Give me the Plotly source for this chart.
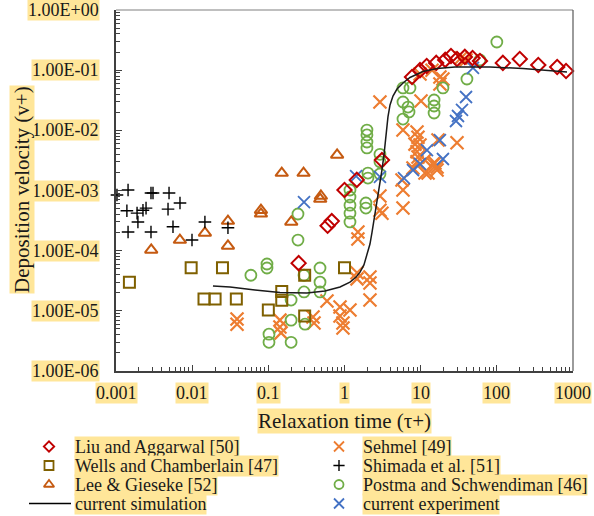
import numpy as np
import plotly.graph_objects as go

# ---------------- data ----------------
liu_x = [0.25, 0.6, 0.68, 1.0, 1.45, 3.1, 7.7, 9.8, 12, 16, 21, 25, 30, 38, 48, 60, 120, 200, 350, 620, 810]
liu_y = [6.2e-5, 2.6e-4, 3.1e-4, 1.02e-3, 1.5e-3, 3.2e-3, 0.077, 0.1, 0.117, 0.132, 0.148, 0.172, 0.153,
         0.166, 0.159, 0.142, 0.132, 0.153, 0.122, 0.113, 0.097]

wells_x = [0.0015, 0.0097, 0.025, 0.0143, 0.02, 0.038, 0.1, 0.15, 0.15, 0.3, 1.0, 0.3]
wells_y = [3.0e-5, 5.2e-5, 5.2e-5, 1.57e-5, 1.57e-5, 1.57e-5, 1.03e-5, 2.1e-5, 1.5e-5, 3.9e-5, 5.2e-5, 8.2e-6]

lee_x = [0.0029, 0.0069, 0.0147, 0.0295, 0.0295, 0.08, 0.08, 0.15, 0.29, 0.2, 0.48, 0.49, 0.8]
lee_y = [1.03e-4, 1.5e-4, 1.97e-4, 3.1e-4, 1.2e-4, 4.7e-4, 4.1e-4, 1.95e-3, 1.95e-3, 3.0e-4, 7.2e-4, 8.1e-4, 3.9e-3]

sehmel_x = [0.0388, 0.0388, 0.142, 0.142, 0.147, 0.386, 0.398, 0.589, 0.873, 0.873, 0.955, 0.955, 1.18,
            1.46, 1.46, 2.16, 2.16, 2.16, 1.5, 1.5, 2.92, 2.92, 3.1, 5.86, 5.86, 5.69, 7.93, 8.95, 12.5,
            15.4, 16.4, 2.92, 5.86, 8.95, 9.22, 8.42, 9.8, 8.95, 9.22, 16.9, 30, 11.4, 14.5, 16.4, 11.4,
            10.1, 9.8, 17.9, 19.6, 17.9, 14.1, 33.8, 39.4]
sehmel_y = [7.3e-6, 6.0e-6, 7.0e-6, 5.4e-6, 4.3e-6, 7.9e-6, 6.3e-6, 1.46e-5, 1.16e-5, 8.2e-6, 6.3e-6, 5.2e-6,
            1.03e-5, 4.3e-5, 3.4e-5, 3.65e-5, 2.9e-5, 1.51e-5, 2.04e-4, 1.56e-4, 8.1e-4, 4.7e-4, 4.2e-4,
            1.02e-3, 5.1e-4, 1.5e-3, 2.37e-3, 3.0e-3, 1.95e-3, 2.87e-3, 2.46e-3, 0.0296, 0.0101, 9.4e-3,
            7.7e-3, 5.9e-3, 5.7e-3, 4.4e-3, 3.6e-3, 6.9e-3, 6.2e-3, 3.2e-3, 2.76e-3, 2.19e-3, 1.95e-3,
            0.0308, 0.0863, 0.077, 0.0713, 0.0589, 0.1, 0.159, 0.148]

shimada_x = [0.00103, 0.00144, 0.00288, 0.00306, 0.00497, 0.00692, 0.00139, 0.00189, 0.00226, 0.00248,
             0.00482, 0.00194, 0.0056, 0.00144, 0.00288, 0.00995, 0.0147, 0.0295]
shimada_y = [8.4e-4, 1.02e-3, 9.1e-4, 9.1e-4, 9.1e-4, 6.2e-4, 4.6e-4, 4.2e-4, 4.7e-4, 5.1e-4, 4.9e-4,
             3.0e-4, 2.5e-4, 2.04e-4, 2.04e-4, 1.5e-4, 3.0e-4, 2.4e-4]

postma_x = [0.059, 0.096, 0.096, 0.102, 0.102, 0.199, 0.199, 0.199, 0.245, 0.245, 0.294, 0.294, 0.303,
            0.477, 0.477, 0.477, 1.18, 1.18, 1.18, 1.18, 1.18, 1.91, 1.91, 1.97, 1.97, 1.97, 1.97,
            2.03, 2.03, 2.92, 2.92, 2.92, 5.86, 7.24, 5.86, 6.82, 7.03, 5.86, 15, 15, 15, 19.6, 40.5, 60, 100]
postma_y = [3.9e-5, 6.0e-5, 5.15e-5, 4.1e-6, 3.0e-6, 1.51e-5, 7.0e-6, 3.0e-6, 4.07e-4, 1.5e-4, 3.9e-5,
            2.06e-5, 6.0e-6, 5.15e-5, 3.0e-5, 2.06e-5, 1.02e-3, 7.8e-4, 5.7e-4, 4.2e-4, 3.0e-4, 6.2e-4,
            5.1e-4, 1.01e-2, 8.4e-3, 6.4e-3, 5.1e-3, 1.95e-3, 1.61e-3, 4.0e-3, 3.0e-3, 1.88e-3, 0.0506,
            0.0506, 0.0296, 0.0244, 0.0202, 0.0154, 0.0319, 0.0254, 0.0194, 0.0506, 0.0713, 0.148, 0.294]

expt_x = [0.294, 1.42, 2.92, 6.04, 7.93, 12.1, 17.9, 19.6, 29.1, 30.9, 34.9, 39.4, 48.6, 9.8]
expt_y = [6.4e-4, 1.74e-3, 1.68e-3, 1.61e-3, 2.19e-3, 4.7e-3, 6.9e-3, 3.34e-3, 0.0143, 0.0173, 0.0218,
          0.0358, 0.109, 2.76e-3]

sim_x = [0.01875, 0.0314, 0.0668, 0.142, 0.322, 0.554, 0.873, 1.18, 1.42, 1.60, 1.80, 1.97, 2.16, 2.30,
         2.44, 2.59, 2.75, 2.92, 3.10, 3.30, 3.51, 3.72, 3.96, 4.33, 4.89, 5.86, 7.24, 10.7, 16.4, 28.2,
         81.3, 220, 834]
sim_y = [2.59e-5, 2.49e-5, 2.22e-5, 2.02e-5, 1.98e-5, 2.14e-5, 2.49e-5, 3.0e-5, 3.65e-5, 4.4e-5, 5.8e-5,
         8.5e-5, 1.29e-4, 2.04e-4, 3.2e-4, 5.1e-4, 8.4e-4, 1.33e-3, 2.19e-3, 3.9e-3, 8.4e-3, 0.0167,
         0.0264, 0.0372, 0.0486, 0.0612, 0.0755, 0.095, 0.1066, 0.113, 0.113, 0.1066, 0.0932]

series_names = ["Liu and Aggarwal [50]", "Wells and Chamberlain [47]", "Lee & Gieseke [52]",
                "Sehmel [49]", "Shimada et al. [51]", "Postma and Schwendiman [46]",
                "current experiment", "current simulation"]

x_tick_vals = [0.001, 0.01, 0.1, 1, 10, 100, 1000]
x_tick_text = ["0.001", "0.01", "0.1", "1", "10", "100", "1000"]
y_tick_vals = [1, 0.1, 0.01, 0.001, 0.0001, 0.00001, 0.000001]
y_tick_text = ["1.00E+00", "1.00E-01", "1.00E-02", "1.00E-03", "1.00E-04", "1.00E-05", "1.00E-06"]

x_title = "Relaxation time (τ+)"
y_title = "Deposition velocity (v+)"

# ---------------- styling / layout (screen pixels) ----------------
W, H = 594, 516
PL, PR, PT, PB = 116, 573, 10, 371      # plot area
HL = "#FFE699"
FONT = "Liberation Serif, Times New Roman, serif"
AX = "#404040"
TXT = "#1a1a1a"


def paper_x(px):
    return px / W


def paper_y(py):
    return 1 - py / H


styles = {
    "Liu and Aggarwal [50]": dict(symbol="diamond-open", size=11, color="#C00000", lw=2.0),
    "Wells and Chamberlain [47]": dict(symbol="square-open", size=11, color="#7F6000", lw=2.0),
    "Lee & Gieseke [52]": dict(symbol="triangle-up-open", size=11, color="#C55A11", lw=2.0),
    "Sehmel [49]": dict(symbol="x-thin-open", size=13, color="#ED7D31", lw=2.2),
    "Shimada et al. [51]": dict(symbol="cross-thin-open", size=9, color="#000000", lw=1.4),
    "Postma and Schwendiman [46]": dict(symbol="circle-open", size=11, color="#70AD47", lw=1.8),
    "current experiment": dict(symbol="x-thin-open", size=12, color="#4472C4", lw=1.8),
}
data = {
    "Liu and Aggarwal [50]": (liu_x, liu_y),
    "Wells and Chamberlain [47]": (wells_x, wells_y),
    "Lee & Gieseke [52]": (lee_x, lee_y),
    "Sehmel [49]": (sehmel_x, sehmel_y),
    "Shimada et al. [51]": (shimada_x, shimada_y),
    "Postma and Schwendiman [46]": (postma_x, postma_y),
    "current experiment": (expt_x, expt_y),
}
draw_order = ["Sehmel [49]", "Postma and Schwendiman [46]", "Wells and Chamberlain [47]",
              "Lee & Gieseke [52]", "Shimada et al. [51]", "current experiment", "Liu and Aggarwal [50]"]

fig = go.Figure()
for name in draw_order:
    s = styles[name]
    xs, ys = data[name]
    fig.add_trace(go.Scatter(
        x=xs, y=ys, mode="markers", name=name, showlegend=False, cliponaxis=False,
        marker=dict(symbol=s["symbol"], size=s["size"], color=s["color"],
                    line=dict(color=s["color"], width=s["lw"]))))

fig.add_trace(go.Scatter(x=sim_x, y=sim_y, mode="lines", name="current simulation", showlegend=False,
                         line=dict(color="#1a1a1a", width=1.5)))

# ---------------- custom legend (keys on a full-figure pixel subplot) ----------------
legend_layout = [  # (name, column, row)
    ("Liu and Aggarwal [50]", 0, 0), ("Wells and Chamberlain [47]", 0, 1),
    ("Lee & Gieseke [52]", 0, 2), ("current simulation", 0, 3),
    ("Sehmel [49]", 1, 0), ("Shimada et al. [51]", 1, 1),
    ("Postma and Schwendiman [46]", 1, 2), ("current experiment", 1, 3),
]
col_key_x = [49, 339]
col_text_x = [74, 362]
row_y = [446.5, 465.5, 484.5, 503.5]
legend_sizes = {"Liu and Aggarwal [50]": 8, "Wells and Chamberlain [47]": 9, "Lee & Gieseke [52]": 9,
                "Sehmel [49]": 10, "Shimada et al. [51]": 8, "Postma and Schwendiman [46]": 9,
                "current experiment": 10}

annotations = []
shapes = []
for name, c, r in legend_layout:
    yy = row_y[r]
    if name == "current simulation":
        shapes.append(dict(type="line", xref="paper", yref="paper",
                           x0=paper_x(29), x1=paper_x(71), y0=paper_y(yy), y1=paper_y(yy),
                           line=dict(color="black", width=1.3)))
    else:
        s = styles[name]
        fig.add_trace(go.Scatter(
            x=[col_key_x[c]], y=[yy], xaxis="x2", yaxis="y2", mode="markers", showlegend=False,
            cliponaxis=False, hoverinfo="skip",
            marker=dict(symbol=s["symbol"], size=legend_sizes[name], color=s["color"],
                        line=dict(color=s["color"], width=min(s["lw"], 1.8)))))
    annotations.append(dict(text=name, xref="paper", yref="paper", x=paper_x(col_text_x[c]),
                            y=paper_y(yy), xanchor="left", yanchor="middle",
                            showarrow=False, bgcolor=HL, borderpad=0,
                            font=dict(family=FONT, size=18, color=TXT)))

# tick labels (highlighted text)
for v, t in zip(y_tick_vals, y_tick_text):
    annotations.append(dict(text=t, xref="paper", yref="y", x=paper_x(100), y=np.log10(v),
                            xanchor="right", yanchor="middle", showarrow=False, bgcolor=HL, borderpad=0,
                            font=dict(family=FONT, size=18, color=TXT)))
for v, t in zip(x_tick_vals, x_tick_text):
    annotations.append(dict(text=t, xref="x", yref="paper", x=np.log10(v), y=paper_y(393),
                            xanchor="center", yanchor="middle", showarrow=False, bgcolor=HL, borderpad=0,
                            font=dict(family=FONT, size=18, color=TXT)))

# axis titles
annotations.append(dict(text=x_title, xref="paper", yref="paper", x=paper_x(344), y=paper_y(421),
                        xanchor="center", yanchor="middle", showarrow=False, bgcolor=HL, borderpad=0,
                        font=dict(family=FONT, size=21, color=TXT)))
annotations.append(dict(text=y_title, xref="paper", yref="paper", x=paper_x(22), y=paper_y(190),
                        xanchor="center", yanchor="middle", textangle=-90, showarrow=False,
                        bgcolor=HL, borderpad=0, font=dict(family=FONT, size=21, color=TXT)))

# top / right frame
shapes.append(dict(type="line", xref="x domain", yref="y domain", x0=0, x1=1, y0=1, y1=1,
                   line=dict(color="#808080", width=1.2)))
shapes.append(dict(type="line", xref="x domain", yref="y domain", x0=1, x1=1, y0=0, y1=1,
                   line=dict(color="#595959", width=1.2)))

axis_common = dict(type="log", showline=True, linecolor=AX, linewidth=1.5, ticks="inside",
                   ticklen=6, tickcolor=AX, tickwidth=1, dtick=1, showticklabels=False,
                   showgrid=False, zeroline=False,
                   minor=dict(ticks="inside", ticklen=4, tickcolor=AX, tickwidth=1, showgrid=False))

fig.update_layout(
    width=W, height=H, margin=dict(l=0, r=0, t=0, b=0, autoexpand=False),
    paper_bgcolor="white", plot_bgcolor="rgba(0,0,0,0)", showlegend=False,
    xaxis=dict(range=[-3, 3], domain=[paper_x(PL), paper_x(PR)], anchor="y", **axis_common),
    yaxis=dict(range=[-6, 0], domain=[paper_y(PB), paper_y(PT)], anchor="x", **axis_common),
    xaxis2=dict(domain=[0, 1], anchor="y2", range=[0, W], visible=False),
    yaxis2=dict(domain=[0, 1], anchor="x2", range=[H, 0], visible=False),
    annotations=annotations, shapes=shapes,
    font=dict(family=FONT, size=18, color=TXT),
)

fig.write_html("out.html", config={"displayModeBar": False},
               post_script="document.body.style.margin='0';")
